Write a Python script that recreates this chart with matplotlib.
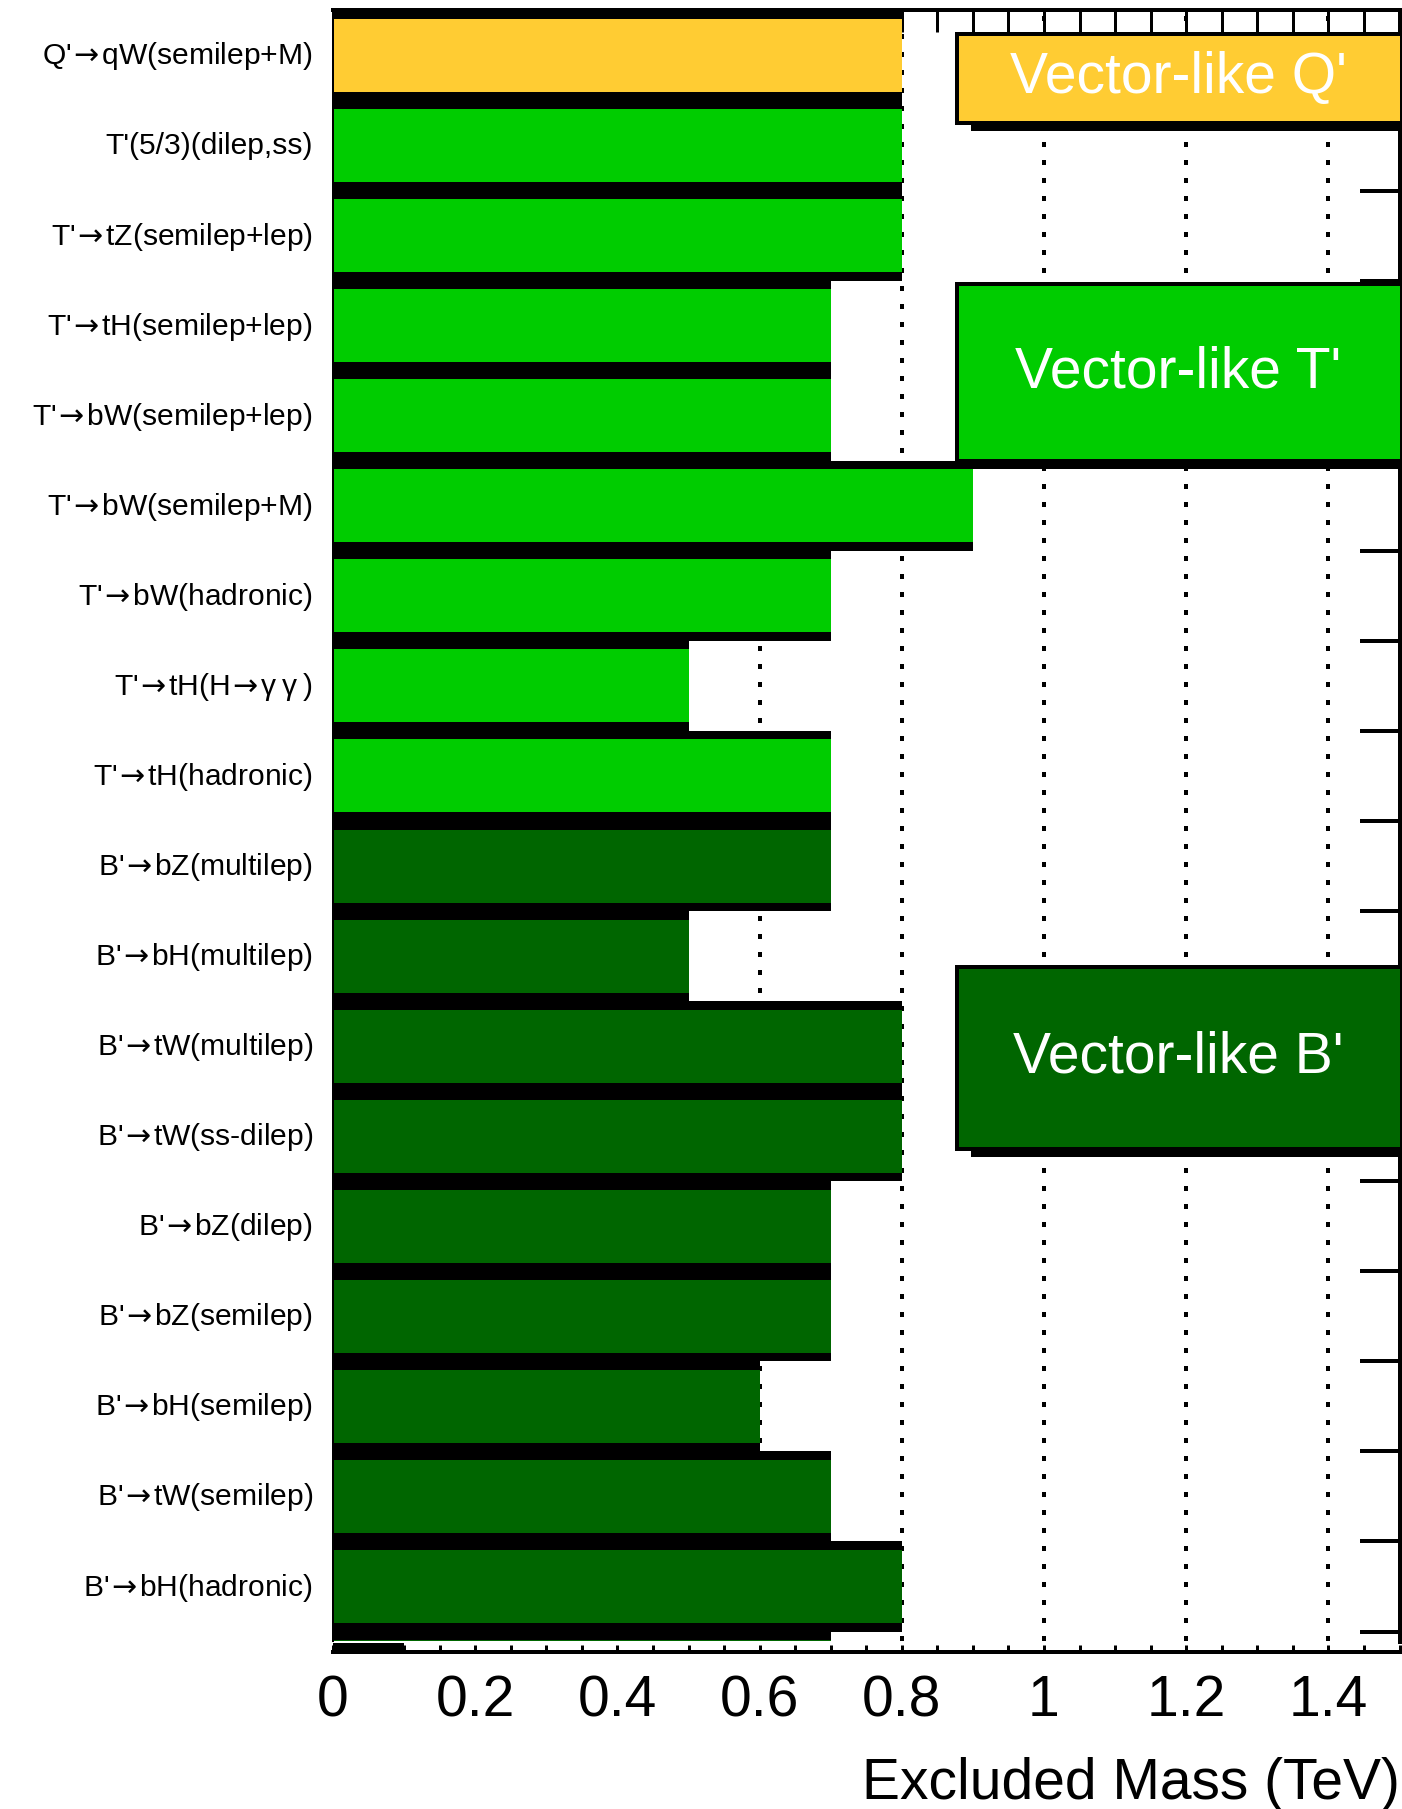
"""Excluded mass summary for vector-like quark searches."""

import matplotlib
matplotlib.use("Agg")
import matplotlib.pyplot as plt
import matplotlib.transforms as mtransforms
from matplotlib.patches import Rectangle
import numpy as np

plt.rcParams["font.family"] = ["Liberation Sans", "DejaVu Sans"]
plt.rcParams["mathtext.fontset"] = "dejavusans"

PX = 0.72  # points per pixel at dpi 100
ARROW = r"$\:\!\!\rightarrow\:\!\!$"

LABELS = [
    f"Q'{ARROW}qW(semilep+M)",
    "T'(5/3)(dilep,ss)",
    f"T'{ARROW}tZ(semilep+lep)",
    f"T'{ARROW}tH(semilep+lep)",
    f"T'{ARROW}bW(semilep+lep)",
    f"T'{ARROW}bW(semilep+M)",
    f"T'{ARROW}bW(hadronic)",
    f"T'{ARROW}tH(H{ARROW}γ\u2009γ\u2009)",
    f"T'{ARROW}tH(hadronic)",
    f"B'{ARROW}bZ(multilep)",
    f"B'{ARROW}bH(multilep)",
    f"B'{ARROW}tW(multilep)",
    f"B'{ARROW}tW(ss-dilep)",
    f"B'{ARROW}bZ(dilep)",
    f"B'{ARROW}bZ(semilep)",
    f"B'{ARROW}bH(semilep)",
    f"B'{ARROW}tW(semilep)",
    f"B'{ARROW}bH(hadronic)",
    "",
]
MASS = [0.8, 0.8, 0.8, 0.7, 0.7, 0.9, 0.7, 0.5, 0.7,
        0.7, 0.5, 0.8, 0.8, 0.7, 0.7, 0.6, 0.7, 0.8, 0.7]
GROUP = ["Q"] + ["T"] * 8 + ["B"] * 10

COLORS = {"Q": "#FFCC33", "T": "#00CC00", "B": "#006600"}
BOXES = [  # text, group, row span covered by the box
    ("Vector-like Q'", "Q", (-0.239, 0.749)),
    ("Vector-like T'", "T", (2.534, 4.503)),
    ("Vector-like B'", "B", (10.121, 12.138)),
]
XMAJOR = [0, 0.2, 0.4, 0.6, 0.8, 1.0, 1.2, 1.4]
XMAJOR_LABELS = ["0", "0.2", "0.4", "0.6", "0.8", "1", "1.2", "1.4"]

fig = plt.figure(figsize=(14.02, 18.09), dpi=100)
ax = fig.add_axes([333 / 1402, 1 - 1641 / 1809, 1066.5 / 1402, 1631 / 1809])

rows = np.arange(len(MASS))
colors = [COLORS[g] for g in GROUP]

# black frame/shadow behind each bar, then the coloured bar
ax.barh(rows, MASS, height=1.0, color="black", linewidth=0, zorder=1)
ax.barh(rows, MASS, height=0.81, color=colors, linewidth=0, zorder=1.1)

ax.set_axisbelow(True)

# dotted grid
for x in XMAJOR[1:]:
    ax.axvline(x, color="black", lw=4 * PX, ls=(0, (1.25, 3.25)), zorder=0.7)

# top ticks (longer than bottom ones)
top_ticks = np.arange(0.05, 1.5, 0.05)
ax.vlines(top_ticks, 1 - 22 / 1631, 1, transform=ax.get_xaxis_transform(),
          color="black", lw=3 * PX, zorder=0.6)

# legend boxes with shadow
blend = mtransforms.blended_transform_factory(ax.transAxes, ax.transData)
bx0 = (957 - 333) / 1066.5
dx = 14 / 1066.5
dy = 8 / 90.06
for text, grp, (y0, y1) in BOXES:
    ax.add_patch(Rectangle((bx0 + dx, y0 + dy), 0.5, y1 - y0, transform=blend,
                           facecolor="black", edgecolor="none", zorder=3))
    ax.add_patch(Rectangle((bx0, y0), 0.5, y1 - y0, transform=blend,
                           facecolor=COLORS[grp], edgecolor="black",
                           lw=4 * PX, zorder=3.1))
    ax.text((bx0 + 1.0) / 2, (y0 + y1) / 2, text, transform=blend,
            ha="center", va="center", color="white", fontsize=41, zorder=3.2)

# axes frame
ax.spines["left"].set_linewidth(2 * PX)
ax.spines["top"].set_linewidth(4 * PX)
ax.spines["right"].set_linewidth(5 * PX)
ax.spines["bottom"].set_linewidth(4 * PX)
ax.spines["bottom"].set_position(("outward", 11 * PX))

ax.set_xticks(XMAJOR)
ax.set_xticklabels(XMAJOR_LABELS)
ax.set_xticks(np.arange(0, 1.5001, 0.05), minor=True)
ax.tick_params(axis="x", which="both", direction="in", length=7 * PX,
               width=3 * PX, top=False, bottom=True)
ax.tick_params(axis="x", which="major", labelsize=41, pad=16)

ax.set_yticks(rows[:-1] + 0.5, minor=True)
ax.set_yticks(rows)
ax.set_yticklabels(LABELS)
ax.tick_params(axis="y", which="major", left=False, right=False,
               labelsize=21.6, pad=11)
ax.tick_params(axis="y", which="minor", left=False, right=True,
               direction="in", length=40 * PX, width=4 * PX)
nudge = mtransforms.ScaledTranslation(0, 3 / 100, fig.dpi_scale_trans)
for lab in ax.get_yticklabels():
    lab.set_transform(lab.get_transform() + nudge)

# limits last, so the tick setters cannot widen them
ax.set_xlim(0, 1.5)
ax.set_ylim(17.605, -0.505)

ax.set_xlabel("Excluded Mass (TeV)", loc="right", fontsize=41, labelpad=21)

# thick stub on the lower left of the frame
ax.add_patch(Rectangle((0, -13 / 1631), 0.1, 11 / 1631,
                       transform=ax.get_xaxis_transform(), facecolor="black",
                       edgecolor="none", clip_on=False, zorder=3))

fig.savefig("out.png", dpi=100)
